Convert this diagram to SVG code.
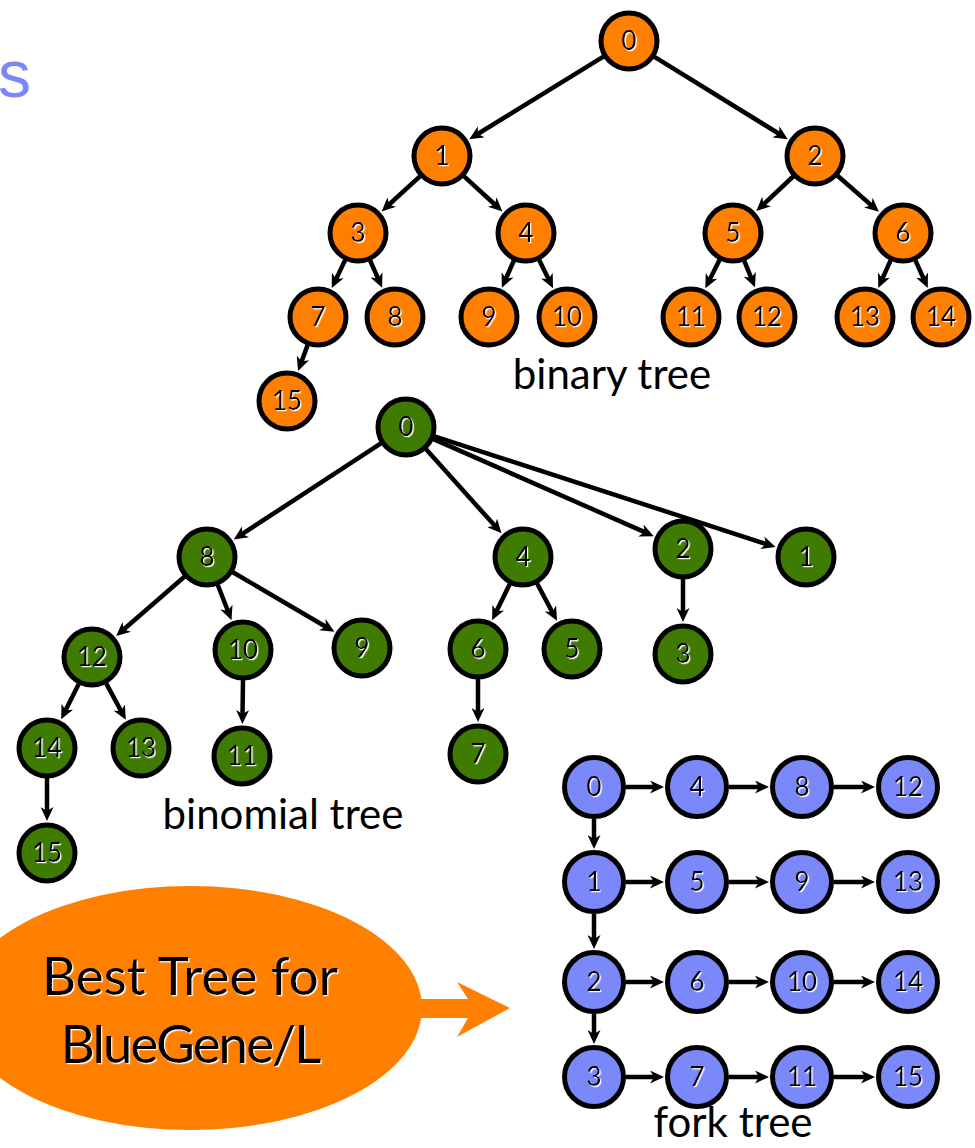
<svg xmlns="http://www.w3.org/2000/svg" width="975" height="1148" viewBox="0 0 975 1148">
  <defs>
    <marker id="arrow" viewBox="0 0 14 13" refX="6" refY="6.5" markerWidth="14" markerHeight="13" markerUnits="userSpaceOnUse" orient="auto">
      <path d="M0,0 L14,6.5 L0,13 L4,6.5 z" fill="#000"/>
    </marker>
    <filter id="glow" x="-20%" y="-20%" width="140%" height="140%">
      <feDropShadow dx="1.2" dy="1.2" stdDeviation="0" flood-color="#fff" flood-opacity="1"/>
    </filter>
  </defs>
  <style>
    .orange circle { fill: #FF8000; stroke: #000; stroke-width: 5; }
    .green circle { fill: #3F7B00; stroke: #000; stroke-width: 5; }
    .blue circle { fill: #7B88FA; stroke: #000; stroke-width: 5; }
    .node text { font-family: Lato, "Liberation Sans", sans-serif; font-size: 26px; fill: #000; text-anchor: middle; filter: url(#glow); }
    .edge line { stroke: #000; stroke-width: 4.5; marker-end: url(#arrow); }
    .caption { font-family: Lato, "Liberation Sans", sans-serif; font-size: 42px; fill: #000; text-anchor: middle; }
    .callout { font-family: Lato, "Liberation Sans", sans-serif; font-size: 53px; fill: #000; text-anchor: middle; filter: url(#glow); }
  </style>

  <rect width="975" height="1148" fill="#fff"/>

  <!-- title fragment -->
  <text x="-2" y="97" font-family="'Liberation Sans', sans-serif" font-size="66" fill="#7B86F9">s</text>

  <!-- connectors -->
  <g id="connectors" class="edge">
    <!-- binary tree -->
    <line x1="603.4" y1="56.7" x2="476.1" y2="135.0"/>
    <line x1="654.5" y1="56.8" x2="781.0" y2="135.0"/>
    <line x1="419.9" y1="176.3" x2="387.5" y2="206.0"/>
    <line x1="464.1" y1="176.3" x2="496.5" y2="206.0"/>
    <line x1="793.1" y1="176.5" x2="762.2" y2="205.6"/>
    <line x1="837.6" y1="175.8" x2="872.9" y2="206.6"/>
    <line x1="345.1" y1="260.1" x2="335.2" y2="280.9"/>
    <line x1="370.1" y1="260.5" x2="378.9" y2="280.4"/>
    <line x1="513.9" y1="260.5" x2="505.1" y2="280.4"/>
    <line x1="539.2" y1="260.0" x2="549.5" y2="281.0"/>
    <line x1="719.6" y1="259.8" x2="708.9" y2="281.2"/>
    <line x1="744.3" y1="260.8" x2="752.0" y2="279.9"/>
    <line x1="890.6" y1="260.3" x2="881.5" y2="280.6"/>
    <line x1="915.4" y1="260.3" x2="924.5" y2="280.6"/>
    <line x1="307.6" y1="345.1" x2="300.8" y2="363.5"/>
    <!-- binomial tree -->
    <line x1="380.9" y1="443.4" x2="240.5" y2="535.1"/>
    <line x1="426.1" y1="449.3" x2="496.2" y2="527.3"/>
    <line x1="433.5" y1="439.1" x2="646.4" y2="532.9"/>
    <line x1="434.5" y1="436.3" x2="768.0" y2="544.6"/>
    <line x1="184.4" y1="576.7" x2="122.2" y2="630.8"/>
    <line x1="217.8" y1="585.0" x2="228.6" y2="612.7"/>
    <line x1="232.9" y1="572.2" x2="327.5" y2="627.7"/>
    <line x1="78.7" y1="683.9" x2="64.7" y2="712.1"/>
    <line x1="106.2" y1="683.4" x2="122.0" y2="712.8"/>
    <line x1="243" y1="680" x2="242.5" y2="716"/>
    <line x1="47" y1="778" x2="47" y2="813"/>
    <line x1="509.8" y1="583.9" x2="495.6" y2="613.1"/>
    <line x1="537.1" y1="583.5" x2="553.2" y2="613.7"/>
    <line x1="478" y1="679" x2="478" y2="714"/>
    <line x1="683" y1="579" x2="683" y2="614"/>
    <!-- fork tree -->
    <line x1="626" y1="787" x2="656" y2="787"/>
    <line x1="729" y1="787" x2="761" y2="787"/>
    <line x1="834" y1="787" x2="867" y2="787"/>
    <line x1="626" y1="882" x2="656" y2="882"/>
    <line x1="729" y1="882" x2="761" y2="882"/>
    <line x1="834" y1="882" x2="867" y2="882"/>
    <line x1="626" y1="982" x2="656" y2="982"/>
    <line x1="729" y1="982" x2="761" y2="982"/>
    <line x1="834" y1="982" x2="867" y2="982"/>
    <line x1="626" y1="1077" x2="656" y2="1077"/>
    <line x1="729" y1="1077" x2="761" y2="1077"/>
    <line x1="834" y1="1077" x2="867" y2="1077"/>
    <line x1="594" y1="819" x2="594" y2="841"/>
    <line x1="594" y1="914" x2="594" y2="941"/>
    <line x1="594" y1="1014" x2="594" y2="1036"/>
  </g>

  <!-- binary tree nodes -->
  <g class="orange">
    <g id="bin-0" class="node"><circle cx="629" cy="41" r="28"/><text x="629" y="50">0</text></g>
    <g id="bin-1" class="node"><circle cx="442" cy="156" r="28"/><text x="442" y="165">1</text></g>
    <g id="bin-2" class="node"><circle cx="815" cy="156" r="28"/><text x="815" y="165">2</text></g>
    <g id="bin-3" class="node"><circle cx="358" cy="233" r="28"/><text x="358" y="242">3</text></g>
    <g id="bin-4" class="node"><circle cx="526" cy="233" r="28"/><text x="526" y="242">4</text></g>
    <g id="bin-5" class="node"><circle cx="733" cy="233" r="28"/><text x="733" y="242">5</text></g>
    <g id="bin-6" class="node"><circle cx="903" cy="233" r="28"/><text x="903" y="242">6</text></g>
    <g id="bin-7" class="node"><circle cx="318" cy="317" r="28"/><text x="318" y="326">7</text></g>
    <g id="bin-8" class="node"><circle cx="395" cy="317" r="28"/><text x="395" y="326">8</text></g>
    <g id="bin-9" class="node"><circle cx="489" cy="317" r="28"/><text x="489" y="326">9</text></g>
    <g id="bin-10" class="node"><circle cx="567" cy="317" r="28"/><text x="567" y="326">10</text></g>
    <g id="bin-11" class="node"><circle cx="691" cy="317" r="28"/><text x="691" y="326">11</text></g>
    <g id="bin-12" class="node"><circle cx="767" cy="317" r="28"/><text x="767" y="326">12</text></g>
    <g id="bin-13" class="node"><circle cx="865" cy="317" r="28"/><text x="865" y="326">13</text></g>
    <g id="bin-14" class="node"><circle cx="941" cy="317" r="28"/><text x="941" y="326">14</text></g>
    <g id="bin-15" class="node"><circle cx="287" cy="401" r="28"/><text x="287" y="410">15</text></g>
  </g>
  <text class="caption" x="612" y="389">binary tree</text>

  <!-- binomial tree nodes -->
  <g class="green">
    <g id="binom-0" class="node"><circle cx="406" cy="427" r="28"/><text x="406" y="436">0</text></g>
    <g id="binom-8" class="node"><circle cx="207" cy="557" r="28"/><text x="207" y="566">8</text></g>
    <g id="binom-4" class="node"><circle cx="523" cy="557" r="28"/><text x="523" y="566">4</text></g>
    <g id="binom-2" class="node"><circle cx="683" cy="549" r="28"/><text x="683" y="558">2</text></g>
    <g id="binom-1" class="node"><circle cx="806" cy="557" r="28"/><text x="806" y="566">1</text></g>
    <g id="binom-12" class="node"><circle cx="92" cy="657" r="28"/><text x="92" y="666">12</text></g>
    <g id="binom-10" class="node"><circle cx="243" cy="650" r="28"/><text x="243" y="659">10</text></g>
    <g id="binom-9" class="node"><circle cx="362" cy="648" r="28"/><text x="362" y="657">9</text></g>
    <g id="binom-6" class="node"><circle cx="478" cy="649" r="28"/><text x="478" y="658">6</text></g>
    <g id="binom-5" class="node"><circle cx="572" cy="649" r="28"/><text x="572" y="658">5</text></g>
    <g id="binom-3" class="node"><circle cx="683" cy="654" r="28"/><text x="683" y="663">3</text></g>
    <g id="binom-14" class="node"><circle cx="47" cy="748" r="28"/><text x="47" y="757">14</text></g>
    <g id="binom-13" class="node"><circle cx="141" cy="748" r="28"/><text x="141" y="757">13</text></g>
    <g id="binom-11" class="node"><circle cx="242" cy="756" r="28"/><text x="242" y="765">11</text></g>
    <g id="binom-7" class="node"><circle cx="478" cy="754" r="28"/><text x="478" y="763">7</text></g>
    <g id="binom-15" class="node"><circle cx="47" cy="853" r="28"/><text x="47" y="862">15</text></g>
  </g>
  <text class="caption" x="283" y="829">binomial tree</text>

  <!-- fork tree nodes -->
  <g class="blue">
    <g id="fork-0" class="node"><circle cx="594" cy="787" r="29.5"/><text x="594" y="796">0</text></g>
    <g id="fork-4" class="node"><circle cx="697" cy="787" r="29.5"/><text x="697" y="796">4</text></g>
    <g id="fork-8" class="node"><circle cx="802" cy="787" r="29.5"/><text x="802" y="796">8</text></g>
    <g id="fork-12" class="node"><circle cx="908" cy="787" r="29.5"/><text x="908" y="796">12</text></g>
    <g id="fork-1" class="node"><circle cx="594" cy="882" r="29.5"/><text x="594" y="891">1</text></g>
    <g id="fork-5" class="node"><circle cx="697" cy="882" r="29.5"/><text x="697" y="891">5</text></g>
    <g id="fork-9" class="node"><circle cx="802" cy="882" r="29.5"/><text x="802" y="891">9</text></g>
    <g id="fork-13" class="node"><circle cx="908" cy="882" r="29.5"/><text x="908" y="891">13</text></g>
    <g id="fork-2" class="node"><circle cx="594" cy="982" r="29.5"/><text x="594" y="991">2</text></g>
    <g id="fork-6" class="node"><circle cx="697" cy="982" r="29.5"/><text x="697" y="991">6</text></g>
    <g id="fork-10" class="node"><circle cx="802" cy="982" r="29.5"/><text x="802" y="991">10</text></g>
    <g id="fork-14" class="node"><circle cx="908" cy="982" r="29.5"/><text x="908" y="991">14</text></g>
    <g id="fork-3" class="node"><circle cx="594" cy="1077" r="29.5"/><text x="594" y="1086">3</text></g>
    <g id="fork-7" class="node"><circle cx="697" cy="1077" r="29.5"/><text x="697" y="1086">7</text></g>
    <g id="fork-11" class="node"><circle cx="802" cy="1077" r="29.5"/><text x="802" y="1086">11</text></g>
    <g id="fork-15" class="node"><circle cx="908" cy="1077" r="29.5"/><text x="908" y="1086">15</text></g>
  </g>
  <text class="caption" x="733" y="1137">fork tree</text>

  <!-- callout bubble with pointer -->
  <g id="callout">
    <ellipse cx="190" cy="1008" rx="232" ry="122" fill="#FF8000"/>
    <polygon points="400,999 468,999 457,982 510,1008 457,1037 468,1018 400,1018" fill="#FF8000"/>
    <text class="callout" x="190" y="995">Best Tree for</text>
    <text class="callout" x="190" y="1063" letter-spacing="-2">BlueGene/L</text>
  </g>
</svg>
